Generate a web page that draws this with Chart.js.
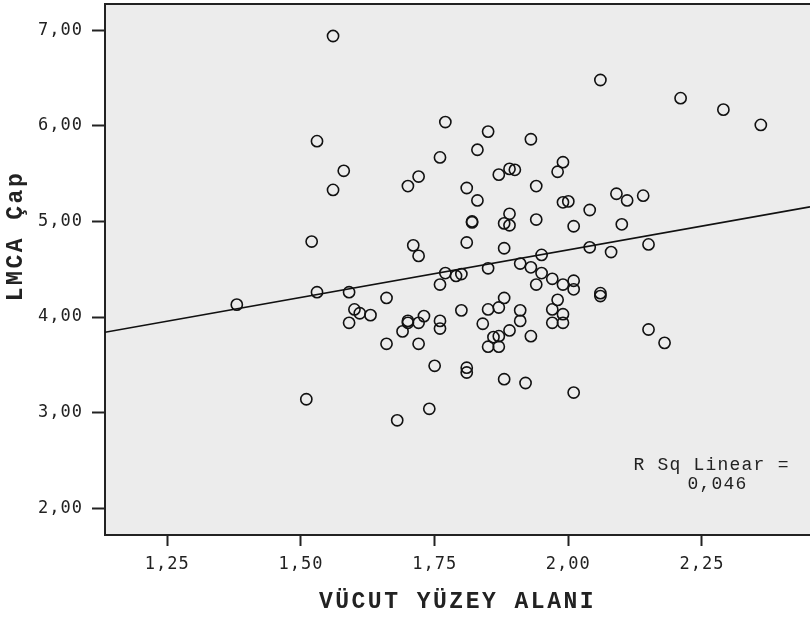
<!DOCTYPE html>
<html>
<head>
<meta charset="utf-8">
<script src="https://cdn.jsdelivr.net/npm/chart.js@4.4.1/dist/chart.umd.min.js"></script>
<style>
  html, body { margin: 0; padding: 0; background: #fff; overflow: hidden; }
  canvas { display: block; }
</style>
</head>
<body>
<canvas id="chart" width="810" height="619"></canvas>
<script>
'use strict';

// ── Data ─────────────────────────────────────────────────────────────────────

const bsa = [
  1.56, 1.77, 1.85, 1.53, 1.83, 1.93, 1.76, 1.58, 1.72, 1.70, 1.56, 1.81, 1.83, 1.87, 1.89,
  1.90, 1.94, 2.06, 2.21, 2.29, 2.36, 1.99, 1.98, 1.99, 2.00, 2.04, 2.09, 2.11, 2.14,
  1.89, 1.82, 1.82, 1.88, 1.89, 1.94, 2.01, 2.10, 1.52, 1.71, 1.72, 1.81, 1.88, 1.95, 2.04,
  2.08, 2.15, 1.77, 1.79, 1.80, 1.85, 1.91, 1.93, 1.95, 1.76, 1.94, 1.97, 1.99, 2.01, 2.01,
  2.06, 2.06, 1.38, 1.53, 1.59, 1.66, 1.60, 1.61, 1.63, 1.59, 1.80, 1.85, 1.87, 1.88, 1.91,
  1.91, 1.98, 1.97, 1.99, 1.97, 1.99, 1.70, 1.70, 1.73, 1.72, 1.69, 1.76, 1.76, 1.84, 1.89,
  1.86, 1.87, 1.85, 1.87, 1.93, 2.15, 2.18, 1.66, 1.72, 1.75, 1.81, 1.81, 1.88, 1.92, 2.01,
  1.51, 1.74, 1.68
];

const lmca = [
  6.94, 6.04, 5.94, 5.84, 5.75, 5.86, 5.67, 5.53, 5.47, 5.37, 5.33, 5.35, 5.22, 5.49, 5.55,
  5.54, 5.37, 6.48, 6.29, 6.17, 6.01, 5.62, 5.52, 5.20, 5.21, 5.12, 5.29, 5.22, 5.27,
  5.08, 5.00, 4.99, 4.98, 4.96, 5.02, 4.95, 4.97, 4.79, 4.75, 4.64, 4.78, 4.72, 4.65, 4.73,
  4.68, 4.76, 4.46, 4.43, 4.45, 4.51, 4.56, 4.52, 4.46, 4.34, 4.34, 4.40, 4.34, 4.38, 4.29,
  4.25, 4.22, 4.13, 4.26, 4.26, 4.20, 4.08, 4.04, 4.02, 3.94, 4.07, 4.08, 4.10, 4.20, 4.07,
  3.96, 4.18, 4.08, 4.03, 3.94, 3.94, 3.96, 3.94, 4.01, 3.94, 3.85, 3.96, 3.88, 3.93, 3.86,
  3.79, 3.80, 3.69, 3.69, 3.80, 3.87, 3.73, 3.72, 3.72, 3.49, 3.47, 3.42, 3.35, 3.31, 3.21,
  3.14, 3.04, 2.92
];

const xTicks = [1.25, 1.50, 1.75, 2.00, 2.25];
const yTicks = [2, 3, 4, 5, 6, 7];
const xRange = [1.1335, 2.452];
const yRange = [1.72, 7.275];

// fit line as drawn on the picture
const fitIntercept = 2.713;
const fitSlope = 0.995;
const rSqLines = ['R Sq Linear =', '0,046'];

const xTitle = 'VÜCUT YÜZEY ALANI';
const yTitle = 'LMCA Çap';

// ── Helpers ──────────────────────────────────────────────────────────────────

const INK = '#222';
const PLOT_BG = '#ececec';

const fmt = v => v.toFixed(2).replace('.', ',');
const setTicks = list => scale => { scale.ticks = list.map(v => ({ value: v })); };

const points = bsa.map((x, i) => ({ x, y: lmca[i] }));
const fitLine = xRange.map(x => ({ x, y: fitIntercept + fitSlope * x }));

// ── Plugin: plot background, top frame, titles, R² note ──────────────────────

const frame = {
  id: 'frame',
  beforeDraw(chart) {
    const { ctx, chartArea: a } = chart;
    ctx.save();
    ctx.fillStyle = PLOT_BG;
    ctx.fillRect(a.left, a.top, a.right - a.left, a.bottom - a.top);
    ctx.strokeStyle = INK;
    ctx.lineWidth = 2;
    ctx.beginPath();
    ctx.moveTo(a.left, a.top);
    ctx.lineTo(a.right, a.top);
    ctx.stroke();
    ctx.restore();
    ctx.letterSpacing = '1px';
  },
  afterDraw(chart) {
    const { ctx, chartArea: a, scales } = chart;
    ctx.save();
    ctx.fillStyle = INK;
    ctx.textAlign = 'center';
    ctx.textBaseline = 'middle';

    ctx.font = 'bold 23px "Liberation Mono"';
    ctx.letterSpacing = '2.5px';
    ctx.fillText(xTitle, (a.left + a.right) / 2, 602);

    ctx.save();
    ctx.translate(16, 236);
    ctx.rotate(-Math.PI / 2);
    ctx.fillText(yTitle, 0, 0);
    ctx.restore();

    ctx.font = '18px "Liberation Mono"';
    ctx.letterSpacing = '1.2px';
    const nx = scales.x.getPixelForValue(2.268);
    const ny = scales.y.getPixelForValue(2.45);
    ctx.fillText(rSqLines[0], nx, ny);
    ctx.fillText(rSqLines[1], nx + 6, ny + 19);
    ctx.restore();
  }
};

// ── Chart ────────────────────────────────────────────────────────────────────

new Chart(document.getElementById('chart').getContext('2d'), {
  type: 'scatter',
  data: {
    datasets: [
      {
        data: points,
        pointStyle: 'circle',
        pointRadius: 5.6,
        pointBorderWidth: 1.6,
        pointBorderColor: '#111',
        pointBackgroundColor: 'rgba(0,0,0,0)',
        order: 2,
      },
      {
        type: 'line',
        data: fitLine,
        borderColor: '#111',
        borderWidth: 1.6,
        pointRadius: 0,
        fill: false,
        order: 1,
      },
    ],
  },
  options: {
    responsive: false,
    animation: false,
    events: [],
    layout: { autoPadding: false, padding: { top: 4, right: 0, bottom: 0, left: 0 } },
    plugins: {
      legend: { display: false },
      tooltip: { enabled: false },
    },
    scales: {
      x: {
        type: 'linear',
        min: xRange[0],
        max: xRange[1],
        afterBuildTicks: setTicks(xTicks),
        afterFit: s => { s.height = 84; s.paddingLeft = 0; s.paddingRight = 0; },
        ticks: {
          autoSkip: false,
          maxRotation: 0,
          padding: 8,
          color: INK,
          font: { family: 'DejaVu Sans Mono', size: 17 },
          callback: v => fmt(v),
        },
        grid: { drawOnChartArea: false, drawTicks: true, tickLength: 11, tickWidth: 2, tickColor: INK },
        border: { display: true, color: INK, width: 2 },
      },
      y: {
        type: 'linear',
        min: yRange[0],
        max: yRange[1],
        afterBuildTicks: setTicks(yTicks),
        afterFit: s => { s.width = 105; s.paddingTop = 0; s.paddingBottom = 0; },
        ticks: {
          autoSkip: false,
          padding: 9,
          color: INK,
          font: { family: 'DejaVu Sans Mono', size: 17 },
          callback: v => fmt(v),
        },
        grid: { drawOnChartArea: false, drawTicks: true, tickLength: 13, tickWidth: 2, tickColor: INK },
        border: { display: true, color: INK, width: 2 },
      },
    },
  },
  plugins: [frame],
});
</script>
</body>
</html>
